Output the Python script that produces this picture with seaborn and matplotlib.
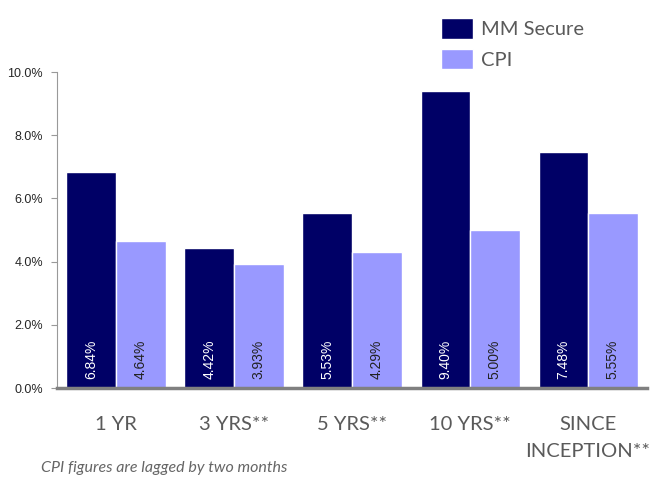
import pandas as pd
import matplotlib.pyplot as plt
import seaborn as sns
from matplotlib.patches import Patch

periodos = ["1 YR", "3 YRS**", "5 YRS**", "10 YRS**", "SINCE\nINCEPTION**"]
mm_secure = [6.84, 4.42, 5.53, 9.40, 7.48]
cpi = [4.64, 3.93, 4.29, 5.00, 5.55]
series = ["MM Secure", "CPI"]
colores = ["#000066", "#9999FF"]

df = pd.DataFrame({
    "periodo": periodos * 2,
    "serie": [series[0]] * len(periodos) + [series[1]] * len(periodos),
    "valor": mm_secure + cpi,
})

sns.set_style("white")
plt.rcParams["font.family"] = ["Liberation Sans", "DejaVu Sans"]

fig = plt.figure(figsize=(6.53, 4.84), dpi=100)
ax = fig.add_axes([0.0873, 0.1983, 0.9037, 0.6527])

sns.barplot(data=df, x="periodo", y="valor", hue="serie", palette=colores,
            width=0.84, gap=0, saturation=1, ax=ax, legend=False)

# etiquetas de valor dentro de las barras
for cont, color_txt in zip(ax.containers, ["white", "#222222"]):
    for bar in cont:
        v = bar.get_height()
        ax.text(bar.get_x() + bar.get_width() / 2, 0.3, f"{v:.2f}%",
                rotation=90, ha="center", va="bottom", color=color_txt,
                fontsize=10)

ax.set_ylim(0, 10)
ax.set_xlim(-0.5, 4.5)
ax.set_yticks([0, 2, 4, 6, 8, 10])
ax.set_yticklabels([f"{t:.1f}%" for t in [0, 2, 4, 6, 8, 10]], fontsize=9)
ax.set_xticks(range(len(periodos)))
ax.set_xticklabels(periodos, fontsize=14.5, color="#5a5a5a",
                   family=["Lato", "DejaVu Sans"], linespacing=1.75)
ax.set_xlabel("")
ax.set_ylabel("")

for s in ["top", "right"]:
    ax.spines[s].set_visible(False)
ax.spines["left"].set_color("#999999")
ax.spines["bottom"].set_color("#808080")
ax.spines["bottom"].set_linewidth(2.5)
ax.tick_params(axis="y", which="both", left=True, length=4, color="#999999",
               pad=6)
ax.tick_params(axis="x", length=0, pad=20)

# leyenda manual arriba a la derecha
handles = [Patch(facecolor=c, label=s) for s, c in zip(series, colores)]
leg = fig.legend(handles=handles, loc="upper left", bbox_to_anchor=(0.647, 1.0),
                 frameon=False, handlelength=1.6, handleheight=1.2,
                 handletextpad=0.4, labelspacing=0.5,
                 prop={"family": ["Lato", "DejaVu Sans"], "size": 14.5})
for t in leg.get_texts():
    t.set_color("#5a5a5a")

fig.text(0.063, 0.025, "CPI figures are lagged by two months", fontsize=11.5,
         style="italic", color="#666666", family=["Lato", "DejaVu Sans"])

plt.savefig("out.png", dpi=100)
plt.close()
